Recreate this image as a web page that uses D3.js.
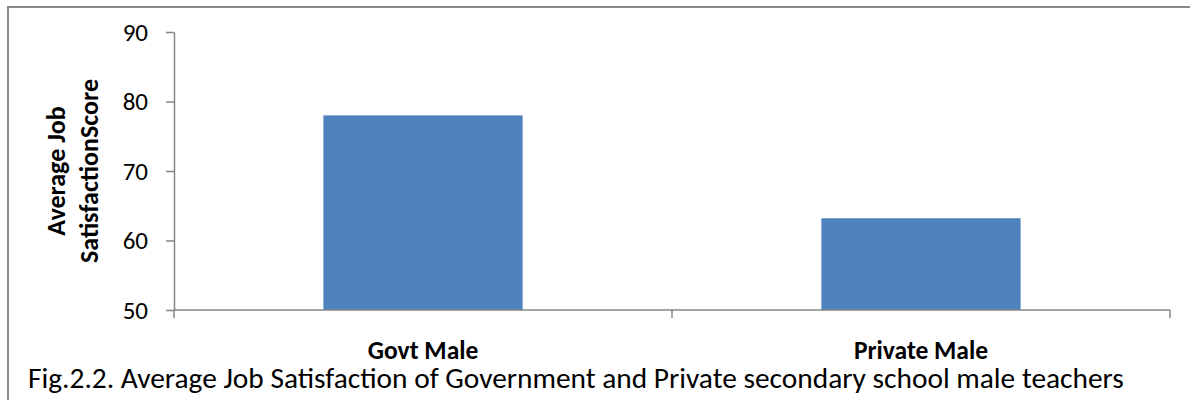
<!DOCTYPE html>
<html>
<head>
<meta charset="utf-8">
<script src="https://cdn.jsdelivr.net/npm/d3@7"></script>
<style>
  html, body { margin: 0; padding: 0; background: #fff; }
  svg { display: block; }
  text { font-family: Carlito, Calibri, Lato, "Open Sans", sans-serif; fill: #000; }
</style>
</head>
<body>
<svg id="chart" width="1190" height="400"></svg>
<script>
// Chart data
const categories = ["Govt Male", "Private Male"];
const scores = [78, 63.2];
const yTicks = [50, 60, 70, 80, 90];
const yTitleLines = ["Average Job", "SatisfactionScore"];
const caption = "Fig.2.2. Average Job Satisfaction of Government and Private secondary school male teachers";

const FONT = "Carlito, Calibri, Lato, sans-serif";
const svg = d3.select("#chart");

// Outer frame, running off the right and bottom edges
svg.append("rect")
  .attr("x", 8).attr("y", 7)
  .attr("width", 1300).attr("height", 500)
  .attr("fill", "none").attr("stroke", "#8a8a8a").attr("stroke-width", 2);

const plot = { left: 174, right: 1170, top: 32, bottom: 310 };

const x = d3.scaleBand()
  .domain(categories)
  .range([plot.left, plot.right])
  .paddingInner(0.6)
  .paddingOuter(0.3);

const y = d3.scaleLinear()
  .domain([50, 90])
  .range([plot.bottom, plot.top]);

// Bars
svg.append("g").selectAll("rect")
  .data(categories)
  .join("rect")
  .attr("x", d => x(d))
  .attr("width", x.bandwidth())
  .attr("y", (d, i) => y(scores[i]))
  .attr("height", (d, i) => y(50) - y(scores[i]))
  .attr("fill", "#4f81bd");

// Y axis
const yAxis = svg.append("g")
  .attr("transform", `translate(${plot.left},0)`)
  .call(d3.axisLeft(y).tickValues(yTicks).tickSize(8).tickPadding(18).tickSizeOuter(0));
yAxis.attr("font-family", FONT).attr("font-size", 25);
yAxis.select(".domain").attr("stroke", "#868686").attr("stroke-width", 1.5);
yAxis.selectAll(".tick line").attr("stroke", "#868686").attr("stroke-width", 1.5);
yAxis.selectAll(".tick text")
  .attr("font-size", 25)
  .attr("font-family", FONT)
  .attr("fill", "#000");

// X axis with boundary ticks between categories
const xAxisG = svg.append("g").attr("transform", `translate(0,${plot.bottom})`);
xAxisG.append("line")
  .attr("x1", plot.left).attr("x2", plot.right)
  .attr("stroke", "#868686").attr("stroke-width", 1.5);
const step = x.step();
const boundaries = d3.range(categories.length + 1).map(i => plot.left + i * step);
xAxisG.selectAll("line.tk")
  .data(boundaries)
  .join("line")
  .attr("class", "tk")
  .attr("x1", d => d).attr("x2", d => d)
  .attr("y1", 0).attr("y2", 8)
  .attr("stroke", "#868686").attr("stroke-width", 1.5);

// Category labels
svg.append("g").selectAll("text")
  .data(categories)
  .join("text")
  .attr("x", d => x(d) + x.bandwidth() / 2)
  .attr("y", 359)
  .attr("text-anchor", "middle")
  .attr("font-size", 25.5)
  .attr("font-weight", "bold")
  .text(d => d);

// Y axis title (two lines, rotated)
const yTitle = svg.append("text")
  .attr("transform", "translate(0,171) rotate(-90)")
  .attr("text-anchor", "middle")
  .attr("font-size", 26)
  .attr("font-weight", "bold");
yTitle.selectAll("tspan")
  .data(yTitleLines)
  .join("tspan")
  .attr("x", 0)
  .attr("y", (d, i) => 65 + i * 33)
  .text(d => d);

// Caption
svg.append("text")
  .attr("x", 28)
  .attr("y", 388)
  .attr("font-size", 29.4)
  .text(caption);
</script>
</body>
</html>
